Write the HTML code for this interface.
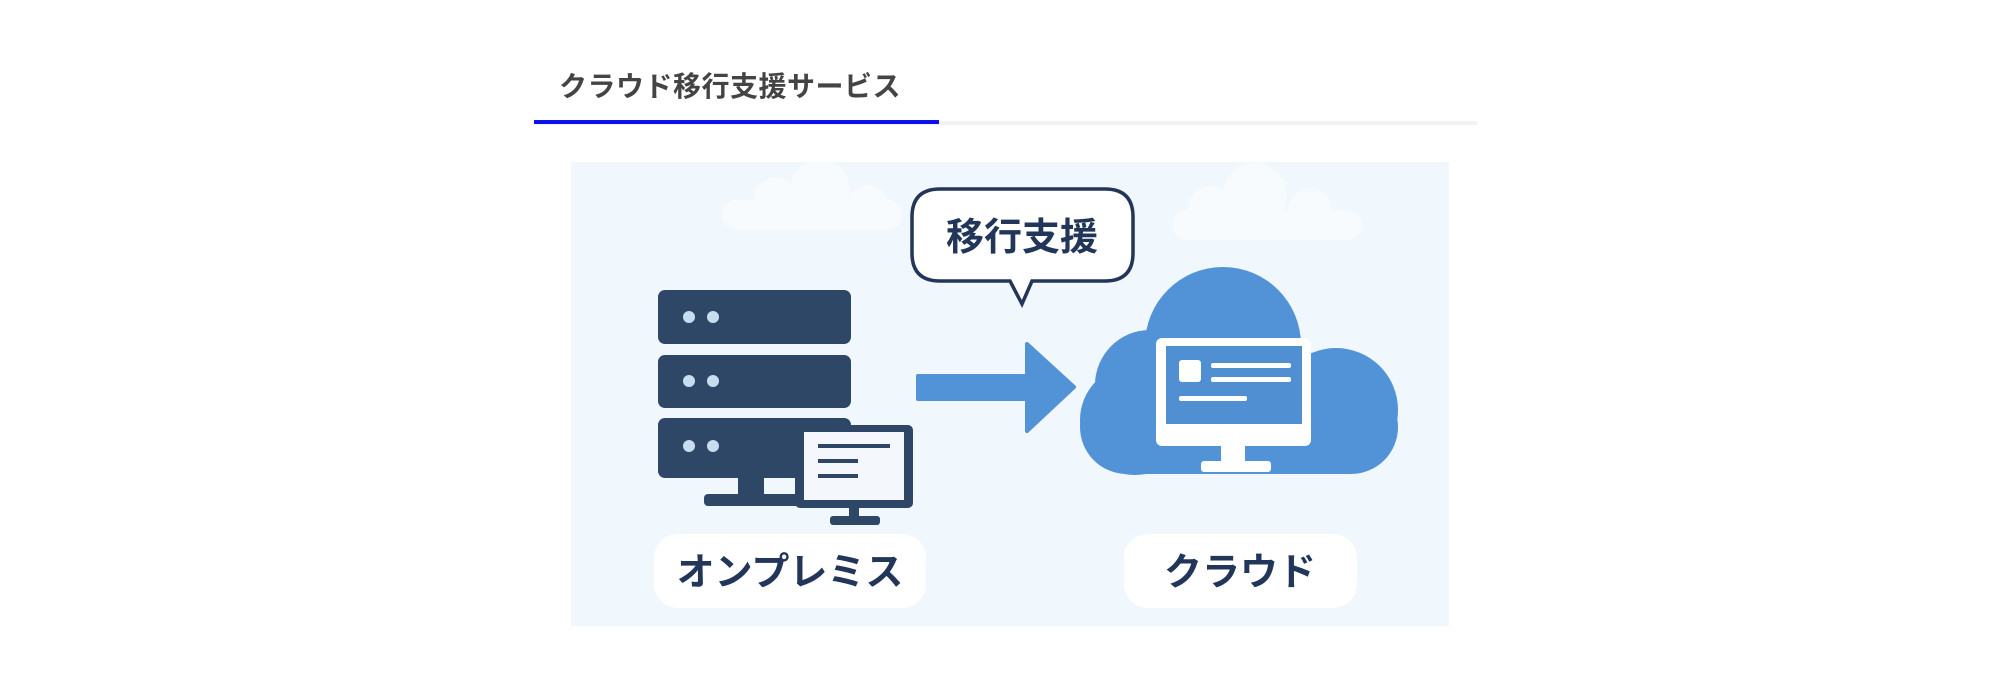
<!DOCTYPE html>
<html><head><meta charset="utf-8"><style>
body{margin:0;width:2000px;height:700px;background:#fff;position:relative;overflow:hidden;font-family:"Liberation Sans","Noto Sans CJK JP",sans-serif}
.a{position:absolute}
</style></head><body>
<div class="a" style="left:559px;top:65px;font-size:28px;color:#444;font-weight:bold;letter-spacing:0.5px">クラウド移行支援サービス</div>
<div class="a" style="left:534px;top:121px;width:943px;height:4px;background:#f2f2f2"></div>
<div class="a" style="left:534px;top:120px;width:405px;height:4px;background:#1010ee"></div>
<svg class="a" style="left:571px;top:162px" width="878" height="464" viewBox="571 162 878 464">
<rect x="571" y="162" width="878" height="464" fill="#f0f7fd"/>
<g fill="#f8fbfe">
<rect x="722" y="200" width="180" height="30" rx="15"/><circle cx="775" cy="200" r="22"/><circle cx="820" cy="190" r="30"/><circle cx="868" cy="205" r="20"/>
<rect x="1172" y="210" width="190" height="30" rx="15"/><circle cx="1210" cy="208" r="22"/><circle cx="1255" cy="195" r="32"/><circle cx="1310" cy="210" r="22"/>
</g>
<g fill="#2e4766">
<rect x="658" y="290" width="193" height="54" rx="7"/>
<rect x="658" y="355" width="193" height="53" rx="7"/>
<rect x="658" y="418" width="193" height="60" rx="7"/>
<rect x="738" y="470" width="26" height="30"/><rect x="704" y="494" width="95" height="12" rx="4"/>
</g>
<g fill="#c8ddf0"><circle cx="689" cy="317" r="6"/><circle cx="713" cy="317" r="6"/><circle cx="689" cy="381" r="6"/><circle cx="713" cy="381" r="6"/><circle cx="689" cy="446" r="6"/><circle cx="713" cy="446" r="6"/></g>
<rect x="795" y="425" width="118" height="83" rx="5" fill="#2e4766"/>
<rect x="804" y="432" width="100" height="68" fill="#f4f8fc"/>
<g fill="#2e4766"><rect x="818" y="444" width="72" height="4"/><rect x="818" y="459" width="40" height="4"/><rect x="818" y="474" width="40" height="4"/>
<rect x="849" y="507" width="10" height="12"/><rect x="830" y="516" width="50" height="9" rx="3"/></g>
<path d="M918 376 H1027 V344 L1074 387 L1027 431 V399 H918 Z" fill="#5193d6" stroke="#5193d6" stroke-width="4" stroke-linejoin="round"/>
<path d="M940 189 H1105 Q1133 189 1133 217 V253 Q1133 281 1105 281 H1032 L1022 304 L1010 281 H940 Q912 281 912 253 V217 Q912 189 940 189 Z" fill="#fff" stroke="#22365a" stroke-width="3.5"/>
<text x="1022" y="250" font-size="38" font-weight="bold" fill="#22365a" text-anchor="middle" font-family="Liberation Sans,Noto Sans CJK JP,sans-serif">移行支援</text>
<g fill="#5193d6">
<circle cx="1223" cy="345" r="78"/><circle cx="1150" cy="385" r="55"/><circle cx="1336" cy="410" r="62"/><circle cx="1135" cy="420" r="55"/>
<rect x="1080" y="380" width="318" height="94" rx="47"/>
</g>
<rect x="1156" y="338" width="155" height="108" rx="6" fill="#fff"/>
<rect x="1166" y="346" width="136" height="78" fill="#4f8fd2"/>
<rect x="1179" y="360" width="22" height="22" rx="3" fill="#fff"/>
<g fill="#fff"><rect x="1211" y="363" width="80" height="5" rx="2"/><rect x="1211" y="377" width="80" height="5" rx="2"/><rect x="1179" y="396" width="68" height="5" rx="2"/>
<rect x="1221" y="444" width="24" height="20"/><rect x="1201" y="461" width="70" height="11" rx="3"/></g>
<rect x="654" y="534" width="272" height="74" rx="24" fill="#fff"/>
<rect x="1124" y="534" width="233" height="74" rx="24" fill="#fff"/>
<text x="790" y="585" font-size="38" font-weight="bold" fill="#22365a" text-anchor="middle" font-family="Liberation Sans,Noto Sans CJK JP,sans-serif">オンプレミス</text>
<text x="1240" y="585" font-size="38" font-weight="bold" fill="#22365a" text-anchor="middle" font-family="Liberation Sans,Noto Sans CJK JP,sans-serif">クラウド</text>
</svg>
</body></html>
